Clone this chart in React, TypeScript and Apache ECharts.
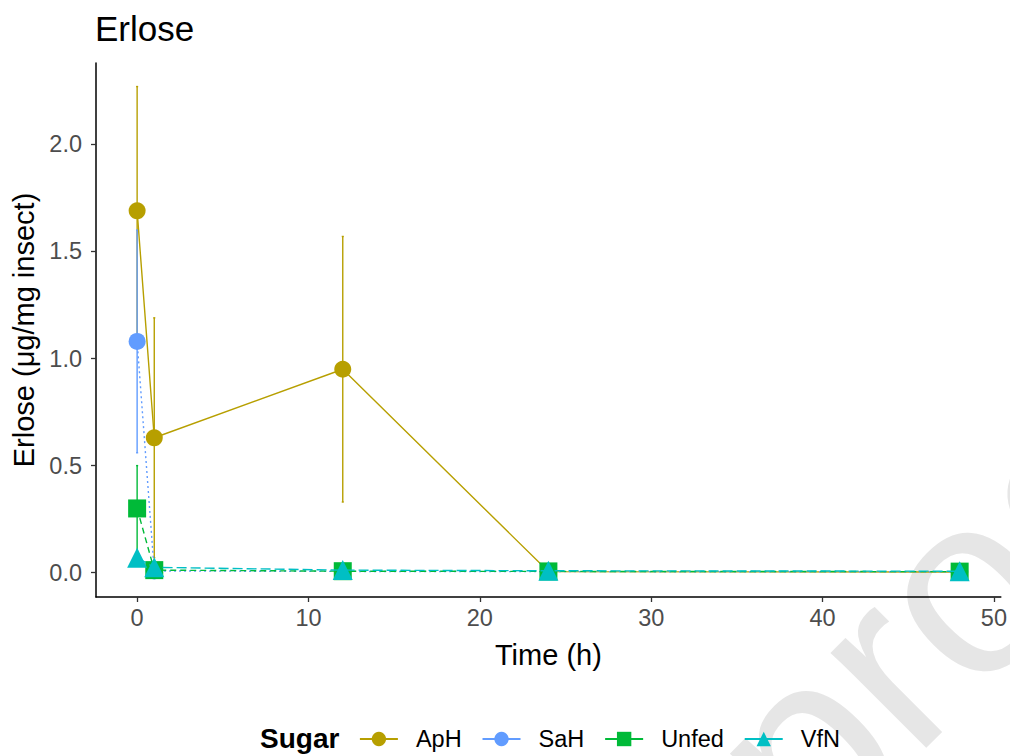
import React, { useEffect, useRef } from "react";
import * as echarts from "echarts";

const times = [0, 1, 12, 24, 48];
const seriesNames = ["ApH", "SaH", "Unfed", "VfN"];
const aphMean = [1.69, 0.63, 0.95, 0.005, 0.003];
const aphErr = [0.58, 0.56, 0.62, 0.003, 0.002];
const sahMean = [1.08, 0.008, 0.006, 0.005, 0.004];
const sahErr = [0.52, 0.004, 0.003, 0.003, 0.002];
const unfedMean = [0.30, 0.012, 0.007, 0.006, 0.005];
const unfedErr = [0.2, 0.006, 0.003, 0.003, 0.002];
const vfnMean = [0.07, 0.025, 0.012, 0.009, 0.007];
const vfnErr = [0.02, 0.01, 0.005, 0.004, 0.003];
const xTicks = [0, 10, 20, 30, 40, 50];
const yTicks = [0, 0.5, 1.0, 1.5, 2.0];

const colors = ["#B79F00", "#619CFF", "#00BA38", "#00BFC4"];
const symbols = ["circle", "circle", "rect", "triangle"];
const symbolSizes = [17, 17, 18, 20];
const dashes: any[] = ["solid", [2, 3], [6, 4], [10, 4]];
const means = [aphMean, sahMean, unfedMean, vfnMean];
const errs = [aphErr, sahErr, unfedErr, vfnErr];

const FONT = "'Liberation Sans', Arial, sans-serif";

export default function App() {
  const ref = useRef<HTMLDivElement>(null);
  useEffect(() => {
    if (!ref.current) return;
    const chart = echarts.init(ref.current, null, { renderer: "svg" });

    const errSeries = seriesNames.map((name, i) => ({
      type: "custom",
      name: name + " error",
      z: 1,
      data: times.map((t, j) => [t, means[i][j] - errs[i][j], means[i][j] + errs[i][j]]),
      encode: { x: 0, y: [1, 2] },
      renderItem: (params: any, api: any) => {
        const x = api.value(0);
        const lo = api.value(1);
        const hi = api.value(2);
        const top = api.coord([x, hi]);
        const bot = api.coord([x, lo]);
        const capL = api.coord([x - 0.06, hi]);
        const capR = api.coord([x + 0.06, hi]);
        const style = { stroke: colors[i], lineWidth: 1.4 };
        return {
          type: "group",
          children: [
            { type: "line", shape: { x1: top[0], y1: top[1], x2: bot[0], y2: bot[1] }, style },
            { type: "line", shape: { x1: capL[0], y1: top[1], x2: capR[0], y2: top[1] }, style },
            { type: "line", shape: { x1: capL[0], y1: bot[1], x2: capR[0], y2: bot[1] }, style },
          ],
        };
      },
    }));

    const lineSeries = seriesNames.map((name, i) => ({
      type: "line",
      name,
      z: 2 + i,
      data: times.map((t, j) => [t, means[i][j]]),
      symbol: symbols[i],
      symbolSize: symbolSizes[i],
      showAllSymbol: true,
      itemStyle: { color: colors[i] },
      lineStyle: { color: colors[i], width: 1.4, type: dashes[i] },
    }));

    chart.setOption({
      animation: false,
      color: colors,
      title: {
        text: "Erlose",
        left: 95,
        top: 11,
        padding: 0,
        textStyle: { fontFamily: FONT, fontSize: 35, fontWeight: "normal", color: "#000" },
      },
      grid: { left: 96, right: 6, top: 63, bottom: 159, containLabel: false },
      legend: {
        data: seriesNames,
        left: 359,
        top: 727,
        padding: 0,
        itemWidth: 38,
        itemHeight: 18,
        itemGap: 20,
        lineStyle: { type: "solid", width: 1.8 },
        textStyle: { fontFamily: FONT, fontSize: 23.5, color: "#000", padding: [0, 0, 0, 13] },
      },
      graphic: [
        {
          type: "text",
          left: 260,
          top: 724,
          style: { text: "Sugar", fontFamily: FONT, fontSize: 28, fontWeight: "bold", fill: "#000" },
        },
        {
          type: "text",
          x: 841,
          y: 888,
          rotation: Math.PI / 4,
          silent: true,
          z: -10,
          style: {
            text: "proof",
            fontFamily: FONT,
            fontSize: 255,
            fill: "#e6e6e6",
            verticalAlign: "bottom",
            align: "left",
          },
        },
      ],
      xAxis: {
        type: "value",
        min: -2.4,
        max: 50.4,
        name: "Time (h)",
        nameLocation: "middle",
        nameGap: 43,
        nameTextStyle: { fontFamily: FONT, fontSize: 29, color: "#000" },
        axisLine: { show: true, onZero: false, lineStyle: { color: "#000", width: 1.5 } },
        axisTick: { show: true, length: 5, customValues: xTicks, lineStyle: { color: "#333", width: 1.3 } },
        axisLabel: {
          customValues: xTicks,
          margin: 9,
          fontFamily: FONT,
          fontSize: 23.5,
          color: "#4D4D4D",
        },
        splitLine: { show: false },
      },
      yAxis: {
        type: "value",
        min: -0.1135,
        max: 2.38,
        name: "Erlose (μg/mg insect)",
        nameLocation: "middle",
        nameRotate: 90,
        nameGap: 45,
        nameTextStyle: { fontFamily: FONT, fontSize: 29, color: "#000" },
        axisLine: { show: true, onZero: false, lineStyle: { color: "#000", width: 1.5 } },
        axisTick: { show: true, length: 5, customValues: yTicks, lineStyle: { color: "#333", width: 1.3 } },
        axisLabel: {
          customValues: yTicks,
          margin: 14,
          fontFamily: FONT,
          fontSize: 23.5,
          color: "#4D4D4D",
          formatter: (v: number) => v.toFixed(1),
        },
        splitLine: { show: false },
      },
      series: [...errSeries, ...lineSeries],
    });
    return () => chart.dispose();
  }, []);
  return <div ref={ref} style={{ width: 1010, height: 756, position: "absolute", left: 0, top: 0, background: "#fff" }} />;
}
